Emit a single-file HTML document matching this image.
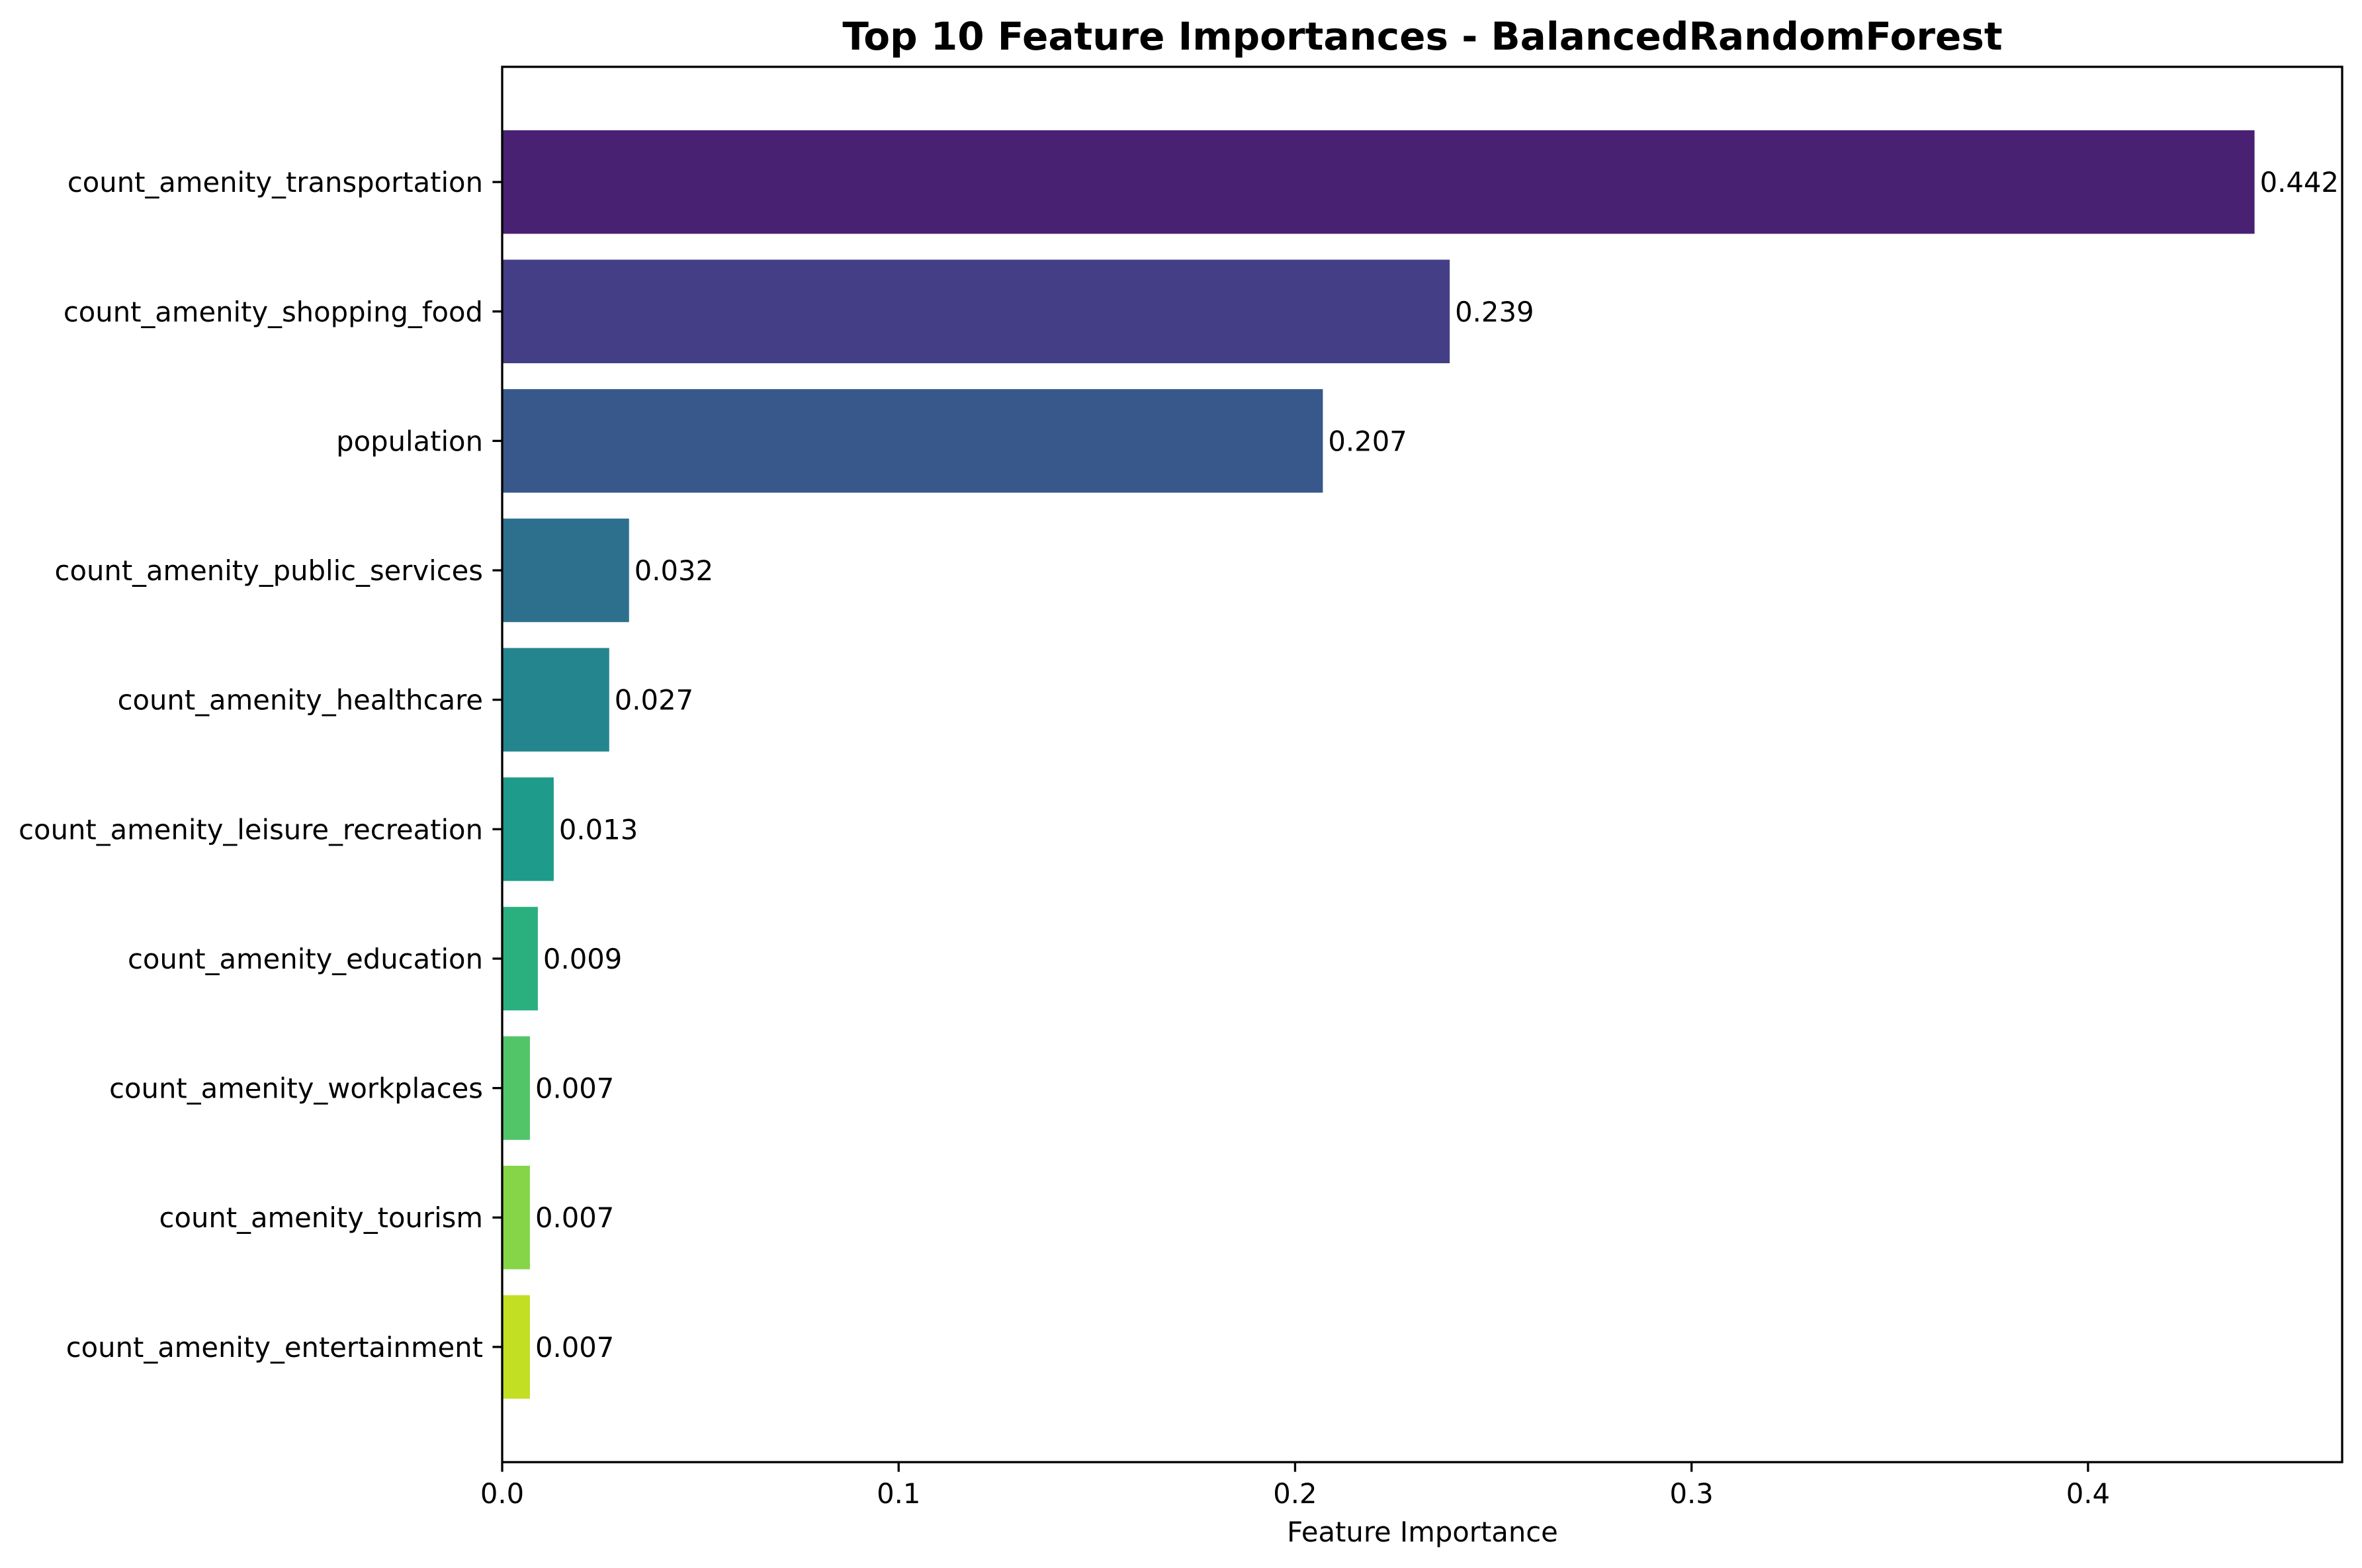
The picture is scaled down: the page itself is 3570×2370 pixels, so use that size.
<!DOCTYPE html>
<html><head><meta charset="utf-8"><style>html,body{margin:0;padding:0;background:#fff}svg{display:block}text{font-family:"DejaVu Sans","Liberation Sans",sans-serif}</style></head>
<body>
<svg id="chart" width="3570" height="2370" viewBox="0 0 3570 2370" xmlns="http://www.w3.org/2000/svg">
<rect width="3570" height="2370" fill="#fff"/>
<text x="2150" y="75" font-size="58" font-weight="bold" text-anchor="middle">Top 10 Feature Importances - BalancedRandomForest</text>
<g id="bars"></g><g id="ylabels"></g><g id="xticks"></g>
<rect x="759" y="101" width="2781" height="2109" fill="none" stroke="#000" stroke-width="3.3"/>
<text x="2150" y="2330" font-size="41.7" text-anchor="middle">Feature Importance</text>
</svg>
<script>
const categories = ["count_amenity_transportation","count_amenity_shopping_food","population","count_amenity_public_services","count_amenity_healthcare","count_amenity_leisure_recreation","count_amenity_education","count_amenity_workplaces","count_amenity_tourism","count_amenity_entertainment"];
const values = [0.442,0.239,0.207,0.032,0.027,0.013,0.009,0.007,0.007,0.007];
const valueLabels = ["0.442","0.239","0.207","0.032","0.027","0.013","0.009","0.007","0.007","0.007"];
const colors = ["#482173","#433e85","#38588c","#2d708e","#25858e","#1e9b8a","#2ab07f","#52c569","#86d549","#c2df23"];
const xTicks = [0,0.1,0.2,0.3,0.4];
const xTickLabels = ["0.0","0.1","0.2","0.3","0.4"];

const NS="http://www.w3.org/2000/svg";
const L=759,R=3540,T=101,B=2210;
const xMax=Math.max(...values)*1.05;
const xs=v=>L+v/xMax*(R-L);
const n=categories.length, h=0.8;
const yMin=-h/2-0.05*(n-1+h), yMax=n-1+h/2+0.05*(n-1+h);
const ys=i=>T+(i-yMin)/(yMax-yMin)*(B-T);
const bandH=(B-T)/(yMax-yMin);
function mk(tag,attrs,parent,txt){const e=document.createElementNS(NS,tag);for(const k in attrs)e.setAttribute(k,attrs[k]);if(txt!==undefined)e.textContent=txt;parent.appendChild(e);return e;}
const gb=document.getElementById('bars'),gy=document.getElementById('ylabels'),gx=document.getElementById('xticks');
categories.forEach((c,i)=>{
  const cy=ys(i);
  const r=mk('rect',{x:xs(0),y:cy-h*bandH/2,width:xs(values[i])-xs(0),height:h*bandH,fill:colors[i%colors.length]},gb);
  
  
  const vl=mk('text',{x:xs(values[i])+8,y:cy+15,'font-size':41.7},gb,valueLabels[i]);
  
  
  const tk=mk('line',{x1:L-14.6,x2:L,y1:cy,y2:cy,stroke:'#000','stroke-width':3.3},gy);
  
  
  const tl=mk('text',{x:L-29,y:cy+15,'font-size':41.7,'text-anchor':'end'},gy,c);
  
  
});
xTicks.forEach((v,i)=>{
  const x=xs(v);
  const tk=mk('line',{x1:x,x2:x,y1:B,y2:B+14.6,stroke:'#000','stroke-width':3.3},gx);
  
  
  const tl=mk('text',{x:x,y:2272,'font-size':41.7,'text-anchor':'middle'},gx,xTickLabels[i]);
  
  
});
</script>
</body></html>
